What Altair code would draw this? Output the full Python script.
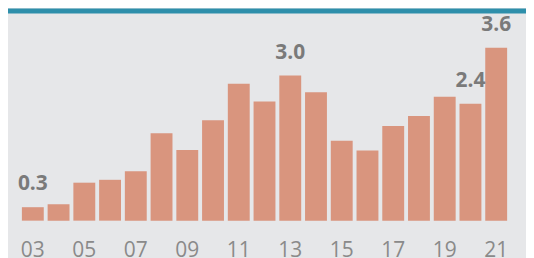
import altair as alt
import pandas as pd

years = ["03", "04", "05", "06", "07", "08", "09", "10", "11", "12",
         "13", "14", "15", "16", "17", "18", "19", "20", "21"]
values = [0.28, 0.34, 0.79, 0.85, 1.03, 1.82, 1.47, 2.09, 2.85, 2.48,
          3.02, 2.67, 1.66, 1.46, 1.97, 2.18, 2.58, 2.43, 3.60]
labelled_years = ["03", "13", "20", "21"]
tick_years = ["03", "05", "07", "09", "11", "13", "15", "17", "19", "21"]

df = pd.DataFrame({"year": years, "value": values})
df["show"] = df["year"].isin(labelled_years)

BG = "#e6e7e9"
BAR = "#d9957e"
TEAL = "#2e8fab"

x = alt.X("year:N", sort=years,
          scale=alt.Scale(paddingInner=0.15, paddingOuter=0.075),
          axis=alt.Axis(title=None, values=tick_years, labelAngle=0, domain=False,
                        ticks=False, grid=False, labelFontSize=21,
                        labelFont="Open Sans", labelColor="#8a8a8a",
                        labelPadding=19))
y = alt.Y("value:Q", scale=alt.Scale(domain=[0, 4.4145], nice=False, zero=True),
          axis=None)

base = alt.Chart(df)

bars = base.mark_bar(color=BAR).encode(x=x, y=y)

labels = base.transform_filter("datum.show").mark_text(
    font="Open Sans", fontWeight="bold", fontSize=21, color="#7a7a7a",
    baseline="alphabetic", dy=-17
).encode(x=x, y=y, text=alt.Text("value:Q", format=".1f"))

band = alt.Chart(pd.DataFrame({"a": [0]})).mark_rect(color=TEAL).encode(
    x=alt.value(-12), x2=alt.value(508), y=alt.value(0), y2=alt.value(5)
)

chart = alt.layer(bars, labels, band).properties(
    width=491, height=213,
    background=BG,
    padding={"left": 12, "top": 0, "right": 17, "bottom": 37},
    autosize=alt.AutoSizeParams(type="none"),
).configure_view(stroke=None)

chart.save("out.html", embed_options={"renderer": "svg", "actions": False})
